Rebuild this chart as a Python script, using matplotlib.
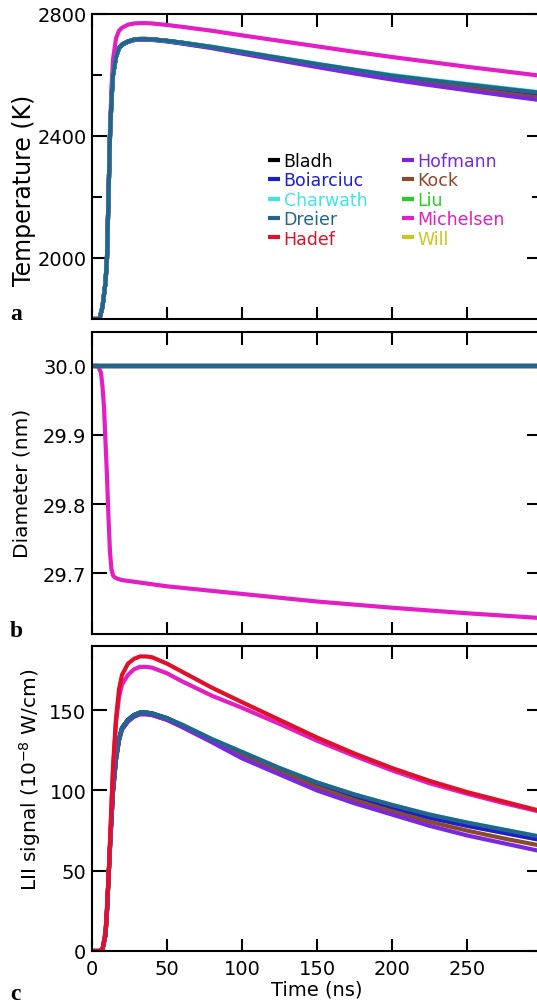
import matplotlib
matplotlib.use("Agg")
import matplotlib.pyplot as plt

# time grid (ns) for temperature and LII signal
t = [0, 5, 7, 9, 10, 11, 12, 13, 14, 16, 18, 20, 24, 28, 32, 36, 40, 50, 60,
     80, 100, 125, 150, 175, 200, 225, 250, 275, 300]

# temperature (K)
T_bladh = [1800, 1800, 1840, 1920, 2000, 2200, 2400, 2520, 2600, 2660, 2688, 2700, 2710, 2716, 2718, 2718, 2717, 2712, 2706,
           2691, 2674, 2654, 2634, 2614, 2595, 2579, 2564, 2550, 2536]
T_boiarciuc = [1800, 1800, 1840, 1920, 2000, 2200, 2400, 2520, 2600, 2660, 2688, 2700, 2710, 2716, 2718, 2718, 2717, 2712, 2705,
               2690, 2673, 2652, 2632, 2612, 2593, 2577, 2561, 2546, 2532]
T_charwath = [1800, 1800, 1840, 1920, 2000, 2200, 2400, 2520, 2600, 2660, 2688, 2700, 2710, 2716, 2718, 2718, 2717, 2712, 2706,
              2693, 2677, 2657, 2637, 2618, 2600, 2585, 2571, 2557, 2543]
T_dreier = [1800, 1800, 1840, 1920, 2000, 2200, 2400, 2520, 2600, 2660, 2688, 2700, 2710, 2716, 2718, 2718, 2717, 2712, 2706,
            2692, 2676, 2656, 2636, 2617, 2598, 2583, 2569, 2555, 2541]
T_hadef = [1800, 1800, 1840, 1920, 2000, 2200, 2400, 2520, 2600, 2660, 2688, 2700, 2710, 2716, 2718, 2718, 2717, 2712, 2705,
           2691, 2674, 2653, 2633, 2613, 2594, 2578, 2563, 2548, 2534]
T_hofmann = [1800, 1800, 1840, 1920, 2000, 2200, 2400, 2520, 2600, 2658, 2686, 2698, 2708, 2714, 2716, 2716, 2715, 2710, 2703,
             2688, 2670, 2648, 2626, 2605, 2585, 2567, 2550, 2533, 2517]
T_kock = [1800, 1800, 1840, 1920, 2000, 2200, 2400, 2520, 2600, 2659, 2687, 2699, 2709, 2715, 2717, 2717, 2716, 2711, 2704,
          2690, 2672, 2651, 2630, 2609, 2589, 2572, 2556, 2540, 2525]
T_liu = [1800, 1800, 1840, 1920, 2000, 2200, 2400, 2520, 2600, 2660, 2688, 2700, 2710, 2716, 2718, 2718, 2717, 2712, 2706,
         2691, 2675, 2655, 2635, 2615, 2596, 2580, 2565, 2551, 2537]
T_michelsen = [1800, 1800, 1840, 1920, 2000, 2200, 2420, 2560, 2650, 2720, 2745, 2755, 2765, 2769, 2770, 2770, 2769, 2764, 2758,
               2745, 2730, 2712, 2694, 2676, 2659, 2643, 2627, 2612, 2597]
T_will = [1800, 1800, 1840, 1920, 2000, 2200, 2400, 2520, 2600, 2660, 2688, 2700, 2710, 2716, 2718, 2718, 2717, 2712, 2705,
          2690, 2673, 2652, 2632, 2612, 2593, 2577, 2561, 2546, 2532]

# LII signal (1e-8 W/cm)
S_bladh = [0, 0, 1, 10, 25, 45, 65, 83, 100, 120, 132, 139, 144, 147, 148.5, 148.5, 148, 145, 140.5,
           131.5, 123, 113, 104, 96.5, 90, 84, 79, 74.5, 70]
S_boiarciuc = [0, 0, 1, 10, 25, 45, 65, 83, 100, 120, 132, 139, 144, 147, 148.5, 148.5, 148, 145, 140.5,
               131, 122.5, 112.5, 103.5, 96, 89, 83, 78, 73.5, 69]
S_charwath = [0, 0, 1, 10, 25, 45, 65, 83, 100, 120, 132, 139, 144, 147, 148.5, 148.5, 148, 145, 141,
              132, 124, 114, 105, 97.5, 91, 85, 80, 75.5, 71]
S_dreier = [0, 0, 1, 10, 25, 45, 65, 83, 100, 120, 132, 139, 144, 147, 148.5, 148.5, 148, 145, 141,
            132, 124, 114, 105, 97.5, 91, 85, 80, 75.5, 71]
S_hadef = [0, 0, 1, 12, 27, 45, 68, 92, 115, 145, 163, 172, 179, 182, 183.5, 183.5, 183, 179, 174,
           164, 155, 144, 133, 123, 114, 106, 99, 93, 87]
S_hofmann = [0, 0, 1, 10, 25, 45, 64, 82, 99, 119, 131, 138, 143, 146, 147.5, 147.5, 147, 144, 139.5,
             130, 120, 110, 100, 92, 85, 78, 72, 67, 62]
S_kock = [0, 0, 1, 10, 25, 45, 64, 82, 99, 119, 131, 138, 143, 146, 147.5, 147.5, 147, 144, 140,
          131, 122, 112, 102, 94, 87, 80.5, 75, 70, 65.5]
S_liu = [0, 0, 1, 10, 25, 45, 65, 83, 100, 120, 132, 139, 144, 147, 148.5, 148.5, 148, 145, 140.5,
         131.5, 123, 113, 104, 96.5, 90, 84, 79, 74.5, 70]
S_michelsen = [0, 0, 1, 12, 27, 45, 67, 90, 112, 142, 158, 166, 172, 175.5, 177, 177, 176.5, 173, 168,
               159, 151.5, 141.5, 131, 121.5, 112.5, 104.5, 98, 92, 86.5]
S_will = [0, 0, 1, 10, 25, 45, 65, 83, 100, 120, 132, 139, 144, 147, 148.5, 148.5, 148, 145, 140.5,
          131, 122.5, 112.5, 103.5, 96, 89, 83, 78, 73.5, 69]

# diameter (nm): only Michelsen's model sublimates, the rest stay at 30 nm
t_flat = [0, 300]
D_flat = [30.0, 30.0]
t_mich = [0, 4, 6, 7, 8, 9, 10, 11, 12, 13, 14, 15, 17, 20, 30, 50, 100, 150, 200, 250, 300]
D_mich = [30.0, 30.0, 29.99, 29.97, 29.94, 29.89, 29.84, 29.78, 29.73, 29.705, 29.697, 29.694, 29.692, 29.690,
          29.687, 29.681, 29.670, 29.659, 29.650, 29.642, 29.635]

models = ["Bladh", "Boiarciuc", "Charwath", "Dreier", "Hadef",
          "Hofmann", "Kock", "Liu", "Michelsen", "Will"]
colors = ["#000000", "#1c1cd0", "#3ee6e6", "#22668c", "#e0102a",
          "#7a28e0", "#8b4a2a", "#22d022", "#e21ec4", "#c8c81e"]
temps = [T_bladh, T_boiarciuc, T_charwath, T_dreier, T_hadef,
         T_hofmann, T_kock, T_liu, T_michelsen, T_will]
signals = [S_bladh, S_boiarciuc, S_charwath, S_dreier, S_hadef,
           S_hofmann, S_kock, S_liu, S_michelsen, S_will]

# drawing order (last on top)
order_a = [9, 7, 0, 4, 1, 6, 5, 8, 2, 3]
order_c = [9, 7, 0, 2, 1, 6, 5, 3, 8, 4]

plt.rcParams["font.family"] = ["DejaVu Sans"]
plt.rcParams["axes.linewidth"] = 1.5

W, H = 537, 1004
fig = plt.figure(figsize=(W / 100, H / 100), dpi=100)

def add_axes(top, bottom):
    return fig.add_axes([92 / W, 1 - bottom / H, 450 / W, (bottom - top) / H])

axa = add_axes(15, 320)
axb = add_axes(333, 635)
axc = add_axes(647, 952)

lw = 3.0
for i in order_a:
    axa.plot(t, temps[i], color=colors[i], lw=lw, label=models[i], solid_capstyle="butt")
for i in order_c:
    axc.plot(t, signals[i], color=colors[i], lw=lw, solid_capstyle="butt")
for i in order_a:
    if models[i] == "Michelsen":
        axb.plot(t_mich, D_mich, color=colors[i], lw=lw)
for i in order_a:
    if models[i] != "Michelsen":
        axb.plot(t_flat, D_flat, color=colors[i], lw=lw)

for ax in (axa, axb, axc):
    ax.set_xlim(0, 300)
    ax.set_xticks([0, 50, 100, 150, 200, 250])
    ax.tick_params(axis="x", which="both", direction="in", top=True, length=9, width=1.5,
                   labelsize=14, pad=6)
    ax.tick_params(axis="y", which="major", direction="in", right=True, length=10.5, width=1.5,
                   labelsize=14, pad=4)
    ax.tick_params(axis="y", which="minor", direction="in", right=True, length=7, width=1.5)
    for s in ax.spines.values():
        s.set_linewidth(1.5)

axa.tick_params(axis="x", labelbottom=False)
axb.tick_params(axis="x", labelbottom=False)

axa.set_ylim(1800, 2800)
axa.set_yticks([2000, 2400, 2800])
axa.set_yticks([2200, 2600], minor=True)

axb.set_ylim(29.612, 30.049)
axb.set_yticks([29.7, 29.8, 29.9, 30.0])
axb.set_yticklabels(["29.7", "29.8", "29.9", "30.0"])

axc.set_ylim(0, 190)
axc.set_yticks([0, 50, 100, 150])
axc.set_xlabel("Time (ns)", fontsize=14, labelpad=1)

fig.text(24 / W, 1 - 190 / H, "Temperature (K)", rotation=90, ha="center", va="center", fontsize=17)
fig.text(22 / W, 1 - 483 / H, "Diameter (nm)", rotation=90, ha="center", va="center", fontsize=14.5)
fig.text(30 / W, 1 - 780 / H, "LII signal (10$^{-8}$ W/cm)", rotation=90, ha="center", va="center",
         fontsize=14.5)

for letter, y in (("a", 320), ("b", 637), ("c", 1000)):
    fig.text(10 / W, 1 - y / H, letter, fontsize=17, fontweight="bold",
             family="Liberation Serif", ha="left", va="baseline")

handles, labels = axa.get_legend_handles_labels()
lookup = dict(zip(labels, handles))
leg = axa.legend([lookup[m] for m in models], models, ncol=2, loc="upper left",
                 bbox_to_anchor=((268 - 92) / 450, (320 - 153) / 305), frameon=False,
                 fontsize=12.5, handlelength=0.7, handletextpad=0.2, labelspacing=0.08,
                 columnspacing=2.0, borderpad=0, borderaxespad=0, labelcolor="linecolor")

fig.savefig("out.png", dpi=100)
